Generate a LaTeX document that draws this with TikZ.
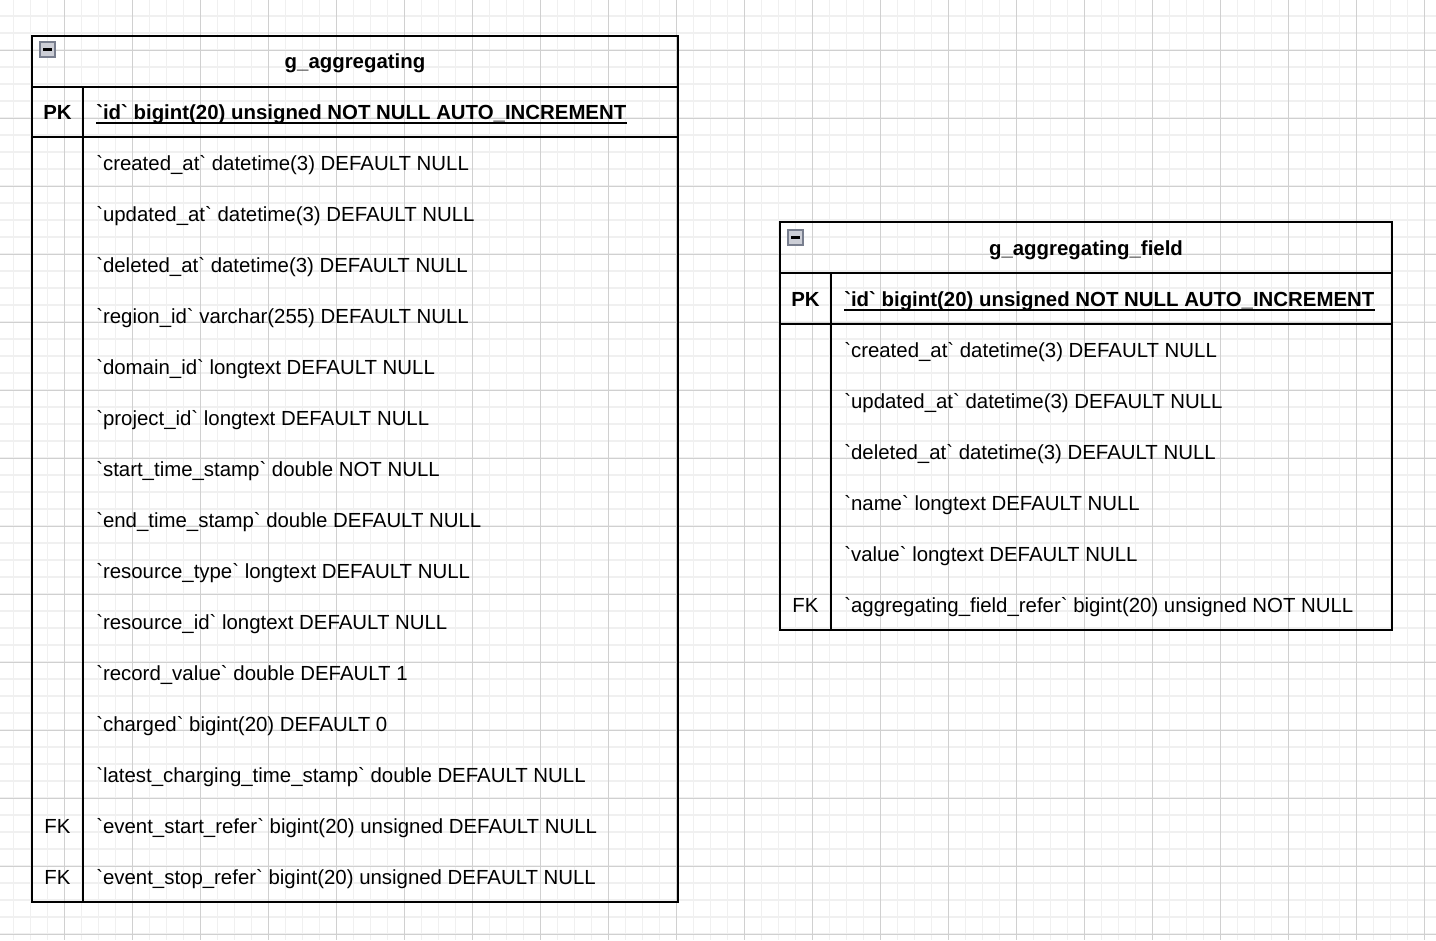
\documentclass[tikz,border=0pt]{standalone}
\usepackage{fontspec}
\setmainfont{Liberation Sans}[Ligatures=TeXOff]
\usetikzlibrary{positioning}
\definecolor{gridlight}{RGB}{240,240,240}
\definecolor{griddark}{RGB}{208,208,208}
\definecolor{iconedge}{RGB}{120,126,142}
\definecolor{iconfill}{RGB}{204,206,214}
\tikzset{
  gridminor/.style={draw=gridlight,line width=1.1pt},
  gridmajor/.style={draw=griddark,line width=0.75pt},
  frame/.style={draw=black,line width=1.2pt},
  fieldtext/.style={anchor=base west,inner sep=0pt,font=\fontsize{15.3}{18}\selectfont},
  keytext/.style={anchor=base,inner sep=0pt,font=\fontsize{15.3}{18}\selectfont},
  pktext/.style={fieldtext,font=\bfseries\fontsize{15.3}{18}\selectfont},
  titletext/.style={anchor=base,inner sep=0pt,font=\bfseries\fontsize{15.3}{18}\selectfont},
  underbar/.style={draw=black,line width=1.5pt},
  minusbox/.style={draw=iconedge,fill=iconfill,line width=1pt},
  minusbar/.style={draw=black,line width=1.6pt}
}
\begin{document}
\begin{tikzpicture}[x=0.75pt,y=-0.75pt]
  \useasboundingbox (0,0) rectangle (1436,940);
  \fill[white] (0,0) rectangle (1436,940);
  % background grid
  \foreach \i in {0,...,83} \draw[gridminor] ({13.7+17*\i},0) -- ({13.7+17*\i},940);
  \foreach \j in {0,...,54} \draw[gridminor] (0,{16+17*\j}) -- (1436,{16+17*\j});
  \foreach \i in {0,...,20} \draw[gridmajor] ({64.7+68*\i},0) -- ({64.7+68*\i},940);
  \foreach \j in {0,...,13} \draw[gridmajor] (0,{50+68*\j}) -- (1436,{50+68*\j});

  % table g_aggregating
  \draw[frame] (32,36) rectangle (678,902);
  \draw[frame] (32,87) -- (678,87);
  \draw[frame] (32,137) -- (678,137);
  \draw[frame] (83,87) -- (83,902);
  \draw[minusbox] (40,42) rectangle (55,57);
  \draw[minusbar] (43,49.5) -- (52,49.5);
  \node[titletext] (aggTitle) at (355,68.5) {g\_aggregating};
  \node[keytext,font=\bfseries\fontsize{15.3}{18}\selectfont] (aggPKkey) at (57.5,119) {PK};
  \node[pktext] (aggPK) at (96,119) {`id` bigint(20) unsigned NOT NULL AUTO\_INCREMENT};
  \draw[underbar] ([yshift=-3pt]aggPK.base west) -- ([yshift=-3pt]aggPK.base east);
  \foreach \txt [count=\i] in {
      {`created\_at` datetime(3) DEFAULT NULL},
      {`updated\_at` datetime(3) DEFAULT NULL},
      {`deleted\_at` datetime(3) DEFAULT NULL},
      {`region\_id` varchar(255) DEFAULT NULL},
      {`domain\_id` longtext DEFAULT NULL},
      {`project\_id` longtext DEFAULT NULL},
      {`start\_time\_stamp` double NOT NULL},
      {`end\_time\_stamp` double DEFAULT NULL},
      {`resource\_type` longtext DEFAULT NULL},
      {`resource\_id` longtext DEFAULT NULL},
      {`record\_value` double DEFAULT 1},
      {`charged` bigint(20) DEFAULT 0},
      {`latest\_charging\_time\_stamp` double DEFAULT NULL},
      {`event\_start\_refer` bigint(20) unsigned DEFAULT NULL},
      {`event\_stop\_refer` bigint(20) unsigned DEFAULT NULL}}
    \node[fieldtext] (aggF\i) at (96,{170+51*(\i-1)}) {\txt};
  \node[keytext] (aggFKa) at (57.5,833) {FK};
  \node[keytext] (aggFKb) at (57.5,884) {FK};

  % table g_aggregating_field
  \draw[frame] (780,222) rectangle (1392,630);
  \draw[frame] (780,273) -- (1392,273);
  \draw[frame] (780,324) -- (1392,324);
  \draw[frame] (831,273) -- (831,630);
  \draw[minusbox] (788,230) rectangle (803,245);
  \draw[minusbar] (791,237.5) -- (800,237.5);
  \node[titletext] (fldTitle) at (1086,255.5) {g\_aggregating\_field};
  \node[keytext,font=\bfseries\fontsize{15.3}{18}\selectfont] (fldPKkey) at (805.5,306) {PK};
  \node[pktext] (fldPK) at (844,306) {`id` bigint(20) unsigned NOT NULL AUTO\_INCREMENT};
  \draw[underbar] ([yshift=-3pt]fldPK.base west) -- ([yshift=-3pt]fldPK.base east);
  \foreach \txt [count=\i] in {
      {`created\_at` datetime(3) DEFAULT NULL},
      {`updated\_at` datetime(3) DEFAULT NULL},
      {`deleted\_at` datetime(3) DEFAULT NULL},
      {`name` longtext DEFAULT NULL},
      {`value` longtext DEFAULT NULL},
      {`aggregating\_field\_refer` bigint(20) unsigned NOT NULL}}
    \node[fieldtext] (fldF\i) at (844,{357+51*(\i-1)}) {\txt};
  \node[keytext] (fldFK) at (805.5,612) {FK};
\end{tikzpicture}
\end{document}
